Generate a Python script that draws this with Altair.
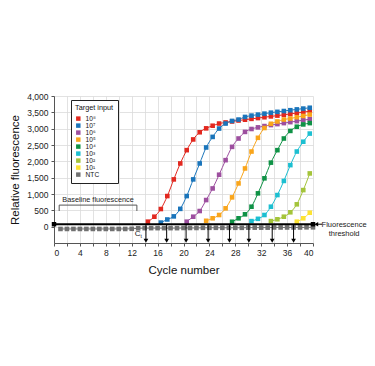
import altair as alt
import pandas as pd

# ---------------- data ----------------
series_names = ["10⁸", "10⁷", "10⁶", "10⁵", "10⁴", "10³", "10²", "10¹", "NTC"]
series_colors = ["#e2281f", "#1a75bb", "#9d4f9f", "#f9a51b", "#0f9246",
                 "#1cbfd1", "#a4c43a", "#fde333", "#717171"]
series_start = [14.5, 16.5, 20.5, 23.5, 27.5, 30.5, 33.5, 37.5, 1]

s_1e8 = [153, 305, 540, 937, 1447, 1935, 2342, 2670, 2890, 3010, 3090, 3157, 3190,
         3220, 3250, 3275, 3300, 3325, 3350, 3375, 3400, 3425, 3450, 3480, 3505, 3535]
s_1e7 = [125, 220, 315, 545, 937, 1447, 1935, 2424, 2748, 3004, 3157, 3237, 3279,
         3359, 3400, 3430, 3460, 3490, 3515, 3540, 3565, 3590, 3615, 3640]
s_1e6 = [153, 305, 479, 815, 1170, 1590, 2036, 2443, 2699, 2901, 2990, 3040, 3080,
         3110, 3140, 3170, 3200, 3230, 3260, 3290]
s_1e5 = [180, 256, 357, 561, 897, 1324, 1782, 2300, 2720, 3020, 3150, 3220, 3280,
         3310, 3350, 3390, 3432]
s_1e4 = [150, 256, 378, 611, 1020, 1480, 1960, 2342, 2699, 2931, 3060, 3130, 3170]
s_1e3 = [170, 240, 357, 611, 968, 1400, 1884, 2300, 2600, 2850]
s_1e2 = [170, 226, 305, 440, 684, 1120, 1630]
s_1e1 = [153, 256, 427]
s_ntc = [-70, -70, -70, -70, -70, -70, -70, -70, -70, -70, -70, -65, -50, -45, -45,
         -45, -45, -45, -45, -40, -40, -40, -35, -35, -35, -35, -35, -35, -35, -30,
         -30, -30, -30, -25, -25, -25, -25, -25, -20, -20]
series_values = [s_1e8, s_1e7, s_1e6, s_1e5, s_1e4, s_1e3, s_1e2, s_1e1, s_ntc]

ct_cycles = [14.2, 17.4, 20.4, 23.8, 27.1, 30.1, 33.7, 37.0]
threshold = 75
x_ticks = list(range(0, 41, 2))
y_ticks = list(range(0, 4001, 500))

# ---------------- tables ----------------
rows = []
for name, start, vals in zip(series_names, series_start, series_values):
    for i, v in enumerate(vals):
        rows.append({"series": name, "line_series": name, "cycle": start + i, "value": v})
curves = pd.DataFrame(rows)
amp = curves[curves.series != "NTC"]
ntc = curves[curves.series == "NTC"]

FONT = "Liberation Sans"
xscale = alt.Scale(domain=[0, 40], nice=False, zero=False)
yscale = alt.Scale(domain=[-500, 4000], nice=False, zero=False)
xaxis = alt.Axis(values=x_ticks, title="Cycle number", grid=True, tickSize=3,
                 labelPadding=2, titlePadding=8, labelFontSize=8.5, titleFontSize=11.5,
                 titleFontWeight="normal", labelColor="#222", titleColor="#111",
                 domainColor="#555", tickColor="#555", gridColor="#dadada", gridWidth=0.8)
yaxis = alt.Axis(values=y_ticks, title="Relative fluorescence",
                 labelExpr="format(datum.value, ',')", grid=True,
                 tickSize=3, labelPadding=3, labelFontSize=8.5,
                 titleFontSize=11.5, titleFontWeight="normal", labelColor="#222",
                 titleColor="#111", domainColor="#555", tickColor="#555",
                 gridColor="#dadada", gridWidth=0.8, titleX=-39, titleBaseline="middle",
                 titleAngle=270)


def X(f):
    return alt.X(f, type="quantitative", scale=xscale, axis=xaxis)


def Y(f):
    return alt.Y(f, type="quantitative", scale=yscale, axis=yaxis)


color_scale = alt.Scale(domain=series_names, range=series_colors)
# lines use only the amplified series, so their (hidden) legend is kept apart
line_scale = alt.Scale(domain=series_names[:8], range=series_colors[:8])

lines = alt.Chart(amp).mark_line(strokeWidth=1, interpolate="monotone").encode(
    x=X("cycle"), y=Y("value"),
    stroke=alt.Stroke("line_series:N", scale=line_scale, legend=None),
    detail="line_series:N",
)
ntc_line = alt.Chart(ntc).mark_line(strokeWidth=1, color="#717171").encode(
    x=X("cycle"), y=Y("value"))

points = alt.Chart(curves).mark_point(shape="square", filled=True, size=21, opacity=1).encode(
    x=X("cycle"), y=Y("value"),
    color=alt.Color("series:N", scale=color_scale, sort=series_names,
                    legend=alt.Legend(title="Target input", orient="none", legendX=17,
                                      legendY=4, symbolType="square", symbolSize=20,
                                      labelFontSize=6.6, titleFontSize=7.3,
                                      titleFontWeight="normal", titleColor="#111",
                                      labelColor="#111", rowPadding=0, padding=4,
                                      titlePadding=4, strokeColor="#222",
                                      fillColor="white", symbolOpacity=1,
                                      symbolStrokeWidth=0, labelOffset=4)),
)

thr_df = pd.DataFrame({"x0": [0], "x1": [40], "y": [threshold]})
thr = alt.Chart(thr_df).mark_rule(color="black", strokeWidth=2).encode(
    x=X("x0"), x2="x1", y=Y("y"))
cap_df = pd.DataFrame({"x": [0, 40], "y": [threshold, threshold]})
caps = alt.Chart(cap_df).mark_point(shape="square", filled=True, size=20, color="black",
                                    opacity=1).encode(x=X("x"), y=Y("y"))

ct_df = pd.DataFrame({"x": ct_cycles, "top": [threshold] * len(ct_cycles),
                      "bot": [-400] * len(ct_cycles), "head": [-430] * len(ct_cycles)})
ct_rules = alt.Chart(ct_df).mark_rule(color="black", strokeWidth=1).encode(
    x=X("x"), y=Y("top"), y2="bot")
ct_heads = alt.Chart(ct_df).mark_point(shape="triangle-down", filled=True, size=22,
                                       color="black", opacity=1).encode(
    x=X("x"), y=Y("head"))

br_h = pd.DataFrame({"x0": [0.8], "x1": [12.8], "y": [660]})
br_v = pd.DataFrame({"x": [0.8, 12.8], "y0": [660, 660], "y1": [480, 480]})
bracket_h = alt.Chart(br_h).mark_rule(color="#555", strokeWidth=1).encode(
    x=X("x0"), x2="x1", y=Y("y"))
bracket_v = alt.Chart(br_v).mark_rule(color="#555", strokeWidth=1).encode(
    x=X("x"), y=Y("y0"), y2="y1")

base_txt = pd.DataFrame({"x": [6.8], "y": [830], "t": ["Baseline fluorescence"]})
base_text = alt.Chart(base_txt).mark_text(fontSize=7.3, font=FONT, color="#222").encode(
    x=X("x"), y=Y("y"), text="t:N")

ct_c = pd.DataFrame({"x": [12.9], "y": [-230], "t": ["C"]})
ct_t = pd.DataFrame({"x": [13.45], "y": [-300], "t": ["t"]})
ct_c_text = alt.Chart(ct_c).mark_text(fontSize=8, font=FONT, color="#222").encode(
    x=X("x"), y=Y("y"), text="t:N")
ct_t_text = alt.Chart(ct_t).mark_text(fontSize=5, font=FONT, color="#222").encode(
    x=X("x"), y=Y("y"), text="t:N")

fl_arrow = pd.DataFrame({"x0": [40.6], "x1": [41.4], "y": [threshold]})
fl_line = alt.Chart(fl_arrow).mark_rule(color="black", strokeWidth=1).encode(
    x=X("x0"), x2="x1", y=Y("y"))
fl_head_df = pd.DataFrame({"x": [40.5], "y": [threshold]})
fl_head = alt.Chart(fl_head_df).mark_point(shape="triangle-left", filled=True, size=20,
                                           color="black", opacity=1).encode(
    x=X("x"), y=Y("y"))
fl_txt = pd.DataFrame({"x": [44.8, 44.8], "y": [50, -220],
                       "t": ["Fluorescence", "threshold"]})
fl_text = alt.Chart(fl_txt).mark_text(fontSize=7.5, font=FONT, color="#222").encode(
    x=X("x"), y=Y("y"), text="t:N")

chart = alt.layer(
    lines, ntc_line, points, thr, caps, ct_rules, ct_heads, bracket_h, bracket_v,
    base_text, ct_c_text, ct_t_text, fl_line, fl_head, fl_text,
).properties(
    width=259, height=147,
    padding={"left": 46, "top": 88, "right": 54, "bottom": 115},
    autosize=alt.AutoSizeParams(type="none"),
).configure(font=FONT).configure_view(stroke=None)

chart.save("out.html", embed_options={"renderer": "svg", "actions": False})
